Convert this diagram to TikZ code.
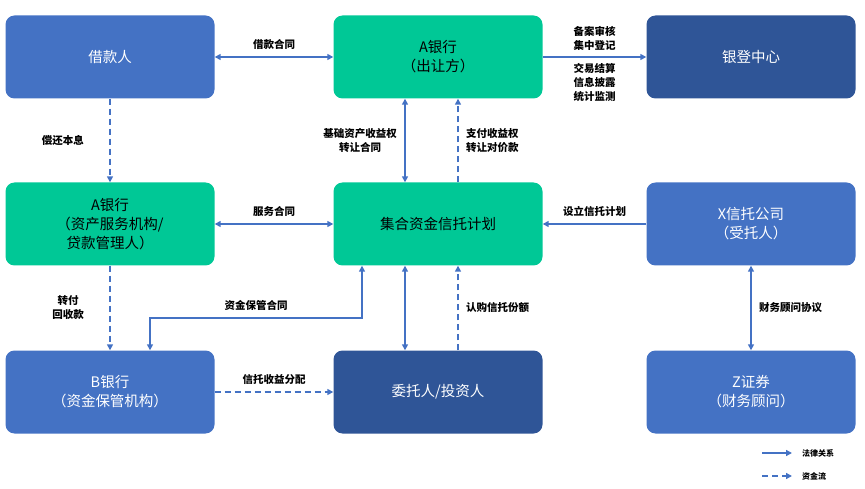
\documentclass[tikz,border=0pt]{standalone}
\usepackage{fontspec}
\setmainfont{Noto Sans CJK SC}
\usetikzlibrary{arrows.meta}
\definecolor{boxblue}{HTML}{4472C4}
\definecolor{boxgreen}{HTML}{00C896}
\definecolor{boxnavy}{HTML}{2F5597}
\definecolor{linkblue}{HTML}{4472C4}
\begin{document}
\begin{tikzpicture}[x=1pt, y=-1pt,
	box/.style={rounded corners=9pt, minimum width=209pt, minimum height=83pt, align=center, font=\fontsize{14.5}{19}\selectfont},
	blue box/.style={box, fill=boxblue, text=white},
	green box/.style={box, fill=boxgreen, text=black},
	navy box/.style={box, fill=boxnavy, text=white},
	law/.style={linkblue, line width=1.6pt, -{Triangle[length=6pt,width=6pt]}},
	both/.style={law, {Triangle[length=6pt,width=6pt]}-{Triangle[length=6pt,width=6pt]}},
	cash/.style={law, dashed, dash pattern=on 6pt off 4pt},
	lbl/.style={text=black, font=\fontsize{10.5}{14}\selectfont\bfseries, align=center}]
	\useasboundingbox (0,0) rectangle (865,489);
	\node[blue box] (borrower) at (110,57) {借款人};
	\node[green box] (abank) at (438,57) {A银行\\（出让方）};
	\node[navy box] (registry) at (751,57) {银登中心};
	\node[green box] (servicer) at (110,224) {A银行\\（资产服务机构/\\贷款管理人）};
	\node[green box] (plan) at (438,224) {集合资金信托计划};
	\node[blue box] (trustco) at (751,224) {X信托公司\\（受托人）};
	\node[blue box] (bbank) at (110,392) {B银行\\（资金保管机构）};
	\node[navy box] (investor) at (438,392) {委托人/投资人};
	\node[blue box] (zsec) at (751,392) {Z证券\\（财务顾问）};
	% relations
	\draw[both] (borrower) -- (abank) node[lbl, midway, above=3pt] {借款合同};
	\draw[law] (abank) -- (registry)
		node[lbl, midway, above=2pt] {备案审核\\集中登记}
		node[lbl, midway, below=2pt] {交易结算\\信息披露\\统计监测};
	\draw[cash] (borrower) -- (servicer) node[lbl, midway, left=22pt] {偿还本息};
	\draw[both] (abank.south -| 405,0) -- (plan.north -| 405,0)
		node[lbl, midway, left=4pt] {基础资产收益权\\转让合同};
	\draw[cash] (plan.north -| 458,0) -- (abank.south -| 458,0)
		node[lbl, midway, right=4pt] {支付收益权\\转让对价款};
	\draw[both] (servicer) -- (plan) node[lbl, midway, above=3pt] {服务合同};
	\draw[law] (trustco) -- (plan) node[lbl, midway, above=3pt] {设立信托计划};
	\draw[cash] (servicer) -- (bbank) node[lbl, midway, left=22pt] {转付\\回收款};
	\draw[both] (plan.south -| 362,0) -- (362,318) -- (150,318)
		node[lbl, midway, above=3pt] {资金保管合同} -- (bbank.north -| 150,0);
	\draw[both] (investor.north -| 405,0) -- (plan.south -| 405,0);
	\draw[cash] (investor.north -| 458,0) -- (plan.south -| 458,0)
		node[lbl, midway, right=4pt] {认购信托份额};
	\draw[cash] (bbank) -- (investor) node[lbl, midway, above=3pt] {信托收益分配};
	\draw[both] (trustco) -- (zsec) node[lbl, midway, right=4pt] {财务顾问协议};
	% legend
	\coordinate (law start) at (762,453);
	\coordinate (law end) at (792,453);
	\coordinate (cash start) at (762,476);
	\coordinate (cash end) at (792,476);
	\draw[law, line width=1.4pt] (law start) -- (law end) node[lbl, right=6pt, font=\fontsize{8}{10}\selectfont\bfseries] {法律关系};
	\draw[cash, line width=1.4pt] (cash start) -- (cash end) node[lbl, right=6pt, font=\fontsize{8}{10}\selectfont\bfseries] {资金流};
\end{tikzpicture}
\end{document}
